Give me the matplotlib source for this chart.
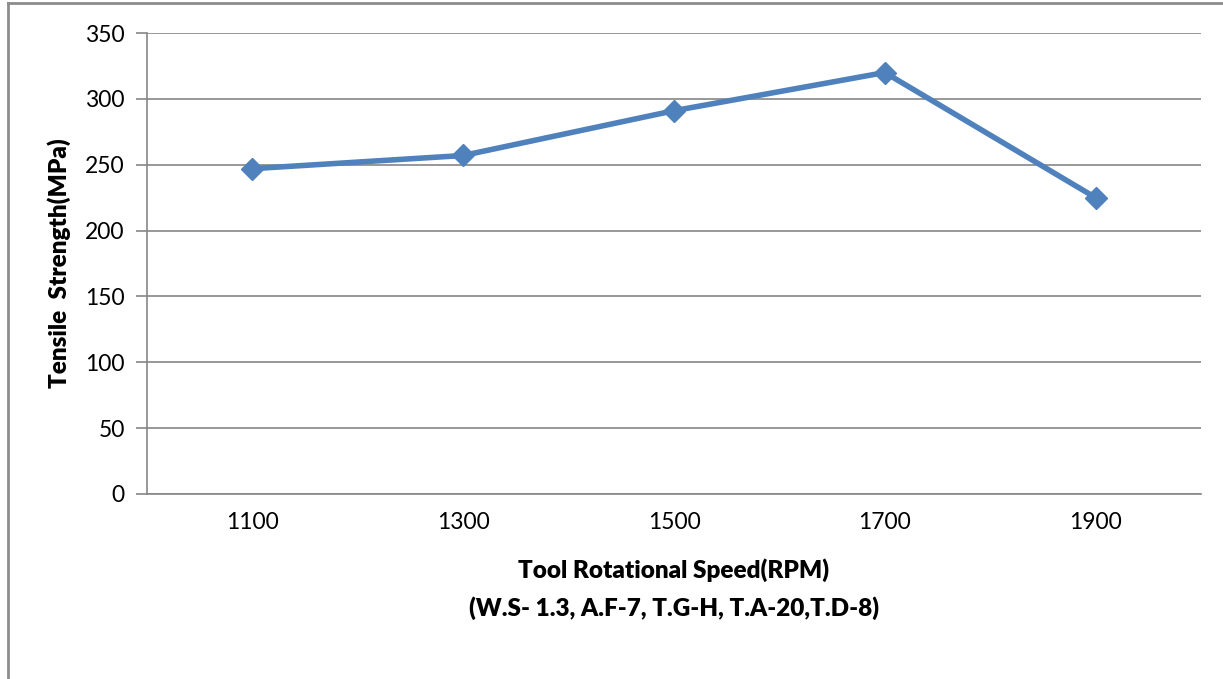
import matplotlib
matplotlib.use("Agg")
import matplotlib.pyplot as plt
import numpy as np

# tensile strength vs tool rotational speed
speeds = ["1100", "1300", "1500", "1700", "1900"]
strength = [247, 257, 291, 320, 225]
yticks = [0, 50, 100, 150, 200, 250, 300, 350]

plt.rcParams['font.family'] = ['Lato', 'DejaVu Sans']

W, H = 1223, 679
fig = plt.figure(figsize=(W / 100, H / 100), dpi=100)

# plot area in pixels: left 147, right 1201, top 33, bottom 494
ax = fig.add_axes([147 / W, 1 - 494 / H, (1201 - 147) / W, (494 - 33) / H])

grid_col = "#868686"
x = np.arange(len(speeds))
ax.plot(x, strength, color="#4F81BD", lw=4, marker="D", markersize=11,
        markeredgecolor="#4F81BD", zorder=3, solid_joinstyle="miter")

ax.set_xlim(-0.5, len(speeds) - 0.5)
ax.set_ylim(0, 350)
ax.set_yticks(yticks)
ax.set_xticks(x)
ax.set_xticklabels(speeds)
ax.yaxis.grid(True, color=grid_col, lw=1.2)
ax.set_axisbelow(True)

for s in ["top", "right"]:
    ax.spines[s].set_visible(False)
ax.spines["left"].set_color(grid_col)
ax.spines["bottom"].set_color(grid_col)
ax.spines["left"].set_linewidth(1.2)
ax.spines["bottom"].set_linewidth(1.2)

ax.tick_params(axis="y", length=8, width=1.2, color=grid_col, labelsize=16.5, pad=8)
ax.tick_params(axis="x", length=0, labelsize=16.5, pad=13)

ax.set_xlabel("Tool Rotational Speed(RPM)\n(W.S- 1.3, A.F-7, T.G-H, T.A-20,T.D-8)",
              fontsize=17.5, fontweight="heavy", labelpad=18, linespacing=1.72)
ax.set_ylabel("Tensile  Strength(MPa)", fontsize=17.5, fontweight="heavy", labelpad=10)

# chart area border (left and top edges)
fig.add_artist(plt.Line2D([8 / W, 8 / W], [0, 1 - 3 / H], color="#8c8c8c", lw=2))
fig.add_artist(plt.Line2D([8 / W, 1], [1 - 3 / H, 1 - 3 / H], color="#8c8c8c", lw=2))

fig.savefig("out.png", dpi=100)
